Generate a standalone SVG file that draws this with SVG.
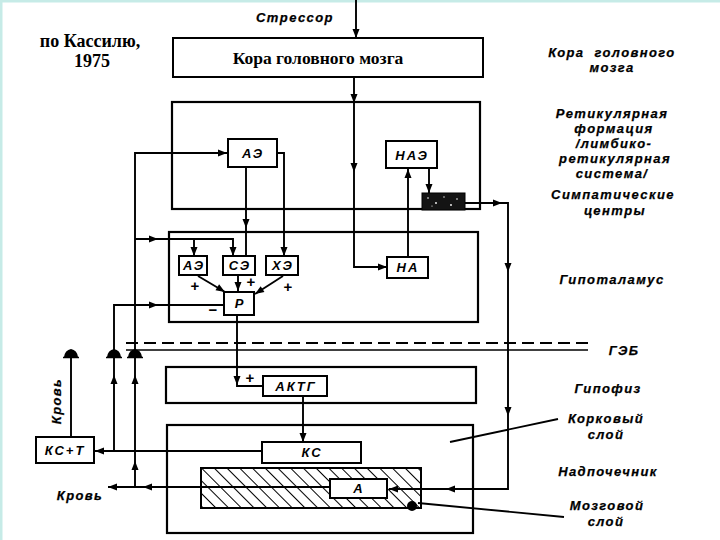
<svg xmlns="http://www.w3.org/2000/svg" xmlns:xlink="http://www.w3.org/1999/xlink" width="720" height="540" viewBox="0 0 720 540">
<style>
.bx{fill:#fff;stroke:#000;stroke-width:2}
.fr{fill:none;stroke:#000;stroke-width:2.2}
.ln{fill:none;stroke:#000;stroke-width:1.9}
.lab{font-family:"Liberation Sans",Arial,sans-serif;font-style:italic;font-weight:bold;font-size:13px;letter-spacing:1.4px;text-anchor:middle;fill:#000;stroke:#000;stroke-width:0.25}
.bl{font-family:"Liberation Sans",Arial,sans-serif;font-style:italic;font-weight:bold;font-size:13px;letter-spacing:2px;text-anchor:middle;fill:#000}
.sg{font-family:"Liberation Sans",Arial,sans-serif;font-weight:bold;font-size:15px;text-anchor:middle;fill:#000}
.ser{font-family:"Liberation Serif","Times New Roman",serif;font-weight:bold;fill:#000;text-anchor:middle}
</style>
<defs>
<path id="ah" d="M0,0 L-9,-3.5 L-9,3.5 Z" fill="#000"/>
<g id="tm"><path d="M-7,0 Q-6,-7 0,-8 Q6,-7 7,0 Z" fill="#000"/><line x1="-8" y1="0.5" x2="8" y2="0.5" stroke="#000" stroke-width="1.5"/></g>
<pattern id="hatch" patternUnits="userSpaceOnUse" width="9" height="9" patternTransform="rotate(-45)">
<line x1="0" y1="0" x2="0" y2="9" stroke="#000" stroke-width="2"/>
</pattern>
</defs>
<rect width="720" height="540" fill="#fff"/>
<line x1="0" y1="1" x2="720" y2="1" stroke="#c6ebe7" stroke-width="3"/>
<line x1="1" y1="0" x2="1" y2="540" stroke="#c6ebe7" stroke-width="3"/>

<text class="ser" x="90" y="47" font-size="18">по Кассилю,</text>
<text class="ser" x="92" y="67" font-size="18">1975</text>
<text class="lab" x="295" y="22">Стрессор</text>

<g id="frames">
<rect id="reticular" class="fr" x="172" y="102" width="308" height="107"/>
<rect id="hypothalamus" class="fr" x="169" y="232" width="309" height="90"/>
<rect id="hypophysis" class="fr" x="166" y="367" width="310" height="36"/>
<rect id="adrenal" class="fr" x="167" y="425" width="306" height="108"/>
<rect id="medulla" x="201" y="468" width="220" height="40" fill="url(#hatch)" stroke="#000" stroke-width="2"/>
</g>

<g id="gab">
<line x1="126" y1="343" x2="588" y2="343" stroke="#000" stroke-width="1.8" stroke-dasharray="12,6"/>
<line x1="126" y1="350" x2="588" y2="350" stroke="#000" stroke-width="1.6"/>
</g>

<g id="connectors">
<path class="ln" d="M356,0 V38"/>
<use xlink:href="#ah" transform="translate(356,38) rotate(90)"/>
<path class="ln" d="M354,77 V267 H387"/>
<use xlink:href="#ah" transform="translate(354,103) rotate(90)"/>
<use xlink:href="#ah" transform="translate(354,172) rotate(90)"/>
<use xlink:href="#ah" transform="translate(387,267)"/>
<path class="ln" d="M408,257 V168"/>
<use xlink:href="#ah" transform="translate(408,169) rotate(-90)"/>
<path class="ln" d="M429,168 V193"/>
<use xlink:href="#ah" transform="translate(429,193) rotate(90)"/>
<path class="ln" d="M465,203 H508 V489 H389"/>
<use xlink:href="#ah" transform="translate(502,203)"/>
<use xlink:href="#ah" transform="translate(508,272) rotate(90)"/>
<use xlink:href="#ah" transform="translate(508,416) rotate(90)"/>
<use xlink:href="#ah" transform="translate(446,489) rotate(180)"/>
<use xlink:href="#ah" transform="translate(389,489) rotate(180)"/>
<path class="ln" d="M246,167 V256"/>
<use xlink:href="#ah" transform="translate(246,228) rotate(90)"/>
<path class="ln" d="M277,153 H284 V256"/>
<use xlink:href="#ah" transform="translate(284,256) rotate(90)"/>
<path class="ln" d="M135,487 V153 H228"/>
<use xlink:href="#ah" transform="translate(227,153)"/>
<path class="ln" d="M135,239 H233 V256"/>
<use xlink:href="#ah" transform="translate(158,239)"/>
<use xlink:href="#ah" transform="translate(233,256) rotate(90)"/>
<path class="ln" d="M194,239 V256"/>
<use xlink:href="#ah" transform="translate(194,256) rotate(90)"/>
<path class="ln" d="M114,451 V305 H224"/>
<use xlink:href="#ah" transform="translate(158,305)"/>
<path class="ln" d="M198,276 L225,292"/>
<use xlink:href="#ah" transform="translate(225,292) rotate(31)"/>
<path class="ln" d="M238,275 V291"/>
<use xlink:href="#ah" transform="translate(238,291) rotate(90)"/>
<path class="ln" d="M283,276 L255,294"/>
<use xlink:href="#ah" transform="translate(255,294) rotate(147)"/>
<path class="ln" d="M237,315 V386 H263"/>
<use xlink:href="#ah" transform="translate(237,385) rotate(90)"/>
<path class="ln" d="M303,396 V442"/>
<use xlink:href="#ah" transform="translate(303,442) rotate(90)"/>
<path class="ln" d="M262,451 H94"/>
<use xlink:href="#ah" transform="translate(95,451) rotate(180)"/>
<path class="ln" d="M330,487 H108"/>
<use xlink:href="#ah" transform="translate(143,487) rotate(180)"/>
<use xlink:href="#ah" transform="translate(108,487) rotate(180)"/>
<path class="ln" d="M71,437 V356"/>
<use xlink:href="#tm" transform="translate(71,357)"/>
<use xlink:href="#tm" transform="translate(114,357)"/>
<use xlink:href="#tm" transform="translate(135,357)"/>
<use xlink:href="#ah" transform="translate(114,375) rotate(-90)"/>
<use xlink:href="#ah" transform="translate(135,375) rotate(-90)"/>
<use xlink:href="#ah" transform="translate(135,461) rotate(-90)"/>
<path class="ln" d="M450,442 L558,419" stroke-width="1.4"/>
<path class="ln" d="M418,503 L564,517" stroke-width="1.4"/>
</g>

<g id="node-cortex"><rect class="bx" x="173" y="38" width="310" height="39"/><text class="ser" x="318" y="64" font-size="17.5">Кора головного мозга</text></g>
<g id="node-ae1"><rect class="bx" x="228" y="139" width="49" height="28"/><text class="bl" x="253" y="158">АЭ</text></g>
<g id="node-nae"><rect class="bx" x="386" y="141" width="51" height="27"/><text class="bl" x="412" y="160">НАЭ</text></g>
<g id="node-symp"><rect x="422" y="193" width="43" height="17" fill="#141414" stroke="#000" stroke-width="1"/>
<circle cx="428" cy="198" r="0.8" fill="#fff"/><circle cx="436" cy="203" r="0.9" fill="#fff"/><circle cx="444" cy="197" r="0.7" fill="#fff"/><circle cx="451" cy="205" r="0.9" fill="#fff"/><circle cx="457" cy="199" r="0.8" fill="#fff"/><circle cx="432" cy="206" r="0.6" fill="#fff"/></g>
<g id="node-ae2"><rect class="bx" x="179" y="256" width="28" height="19"/><text class="bl" x="194" y="270" font-size="12" letter-spacing="1">АЭ</text></g>
<g id="node-se"><rect class="bx" x="223" y="256" width="32" height="19"/><text class="bl" x="240" y="270" font-size="12" letter-spacing="1">СЭ</text></g>
<g id="node-he"><rect class="bx" x="266" y="256" width="32" height="19"/><text class="bl" x="283" y="270" font-size="12" letter-spacing="1">ХЭ</text></g>
<g id="node-na"><rect class="bx" x="387" y="257" width="41" height="21"/><text class="bl" x="408" y="272">НА</text></g>
<g id="node-r"><rect class="bx" x="224" y="292" width="30" height="23"/><text class="bl" x="240" y="308" letter-spacing="0">Р</text></g>
<g id="node-actg"><rect class="bx" x="263" y="376" width="64" height="20"/><text class="bl" x="296" y="391" letter-spacing="2.5">АКТГ</text></g>
<g id="node-ks"><rect class="bx" x="262" y="442" width="99" height="21"/><text class="bl" x="312" y="457">КС</text></g>
<g id="node-a"><rect class="bx" x="330" y="479" width="57" height="19"/><text class="bl" x="359" y="493" letter-spacing="0">А</text></g>
<circle cx="412" cy="506" r="5" fill="#000"/>
<g id="node-kst"><rect class="bx" x="36" y="437" width="58" height="26"/><text class="bl" x="65" y="455" letter-spacing="1">КС+Т</text></g>

<g id="signs">
<text class="sg" x="195" y="291">+</text>
<text class="sg" x="251" y="287">+</text>
<text class="sg" x="288" y="292">+</text>
<text class="sg" x="250" y="383">+</text>
<text class="sg" x="213" y="315">−</text>
</g>

<g id="labels">
<text class="lab" x="57" y="405" transform="rotate(-90 57 401)">Кровь</text>
<text class="lab" x="80" y="500">Кровь</text>
<text class="lab" x="612" y="57" xml:space="preserve">Кора  головного</text>
<text class="lab" x="612" y="72">мозга</text>
<text class="lab" x="612" y="118">Ретикулярная</text>
<text class="lab" x="614" y="133">формация</text>
<text class="lab" x="614" y="148">/лимбико-</text>
<text class="lab" x="615" y="163">ретикулярная</text>
<text class="lab" x="612" y="178">система/</text>
<text class="lab" x="613" y="199">Симпатические</text>
<text class="lab" x="615" y="215">центры</text>
<text class="lab" x="612" y="284">Гипоталамус</text>
<text class="lab" x="624" y="355">ГЭБ</text>
<text class="lab" x="608" y="393">Гипофиз</text>
<text class="lab" x="606" y="423">Корковый</text>
<text class="lab" x="606" y="439">слой</text>
<text class="lab" x="608" y="476">Надпочечник</text>
<text class="lab" x="607" y="510">Мозговой</text>
<text class="lab" x="606" y="526">слой</text>
</g>
</svg>
